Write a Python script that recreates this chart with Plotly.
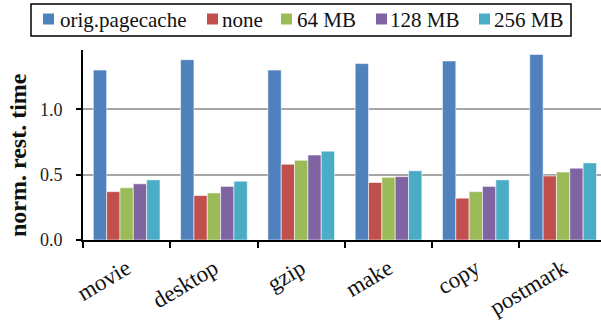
import plotly.graph_objects as go

# Workloads and normalized restore times per cache configuration
workloads = ["movie", "desktop", "gzip", "make", "copy", "postmark"]
series_names = ["orig.pagecache", "none", "64 MB", "128 MB", "256 MB"]
orig_pagecache = [1.30, 1.38, 1.30, 1.35, 1.37, 1.42]
none = [0.37, 0.34, 0.58, 0.44, 0.32, 0.49]
mb64 = [0.40, 0.36, 0.61, 0.48, 0.37, 0.52]
mb128 = [0.43, 0.41, 0.65, 0.485, 0.41, 0.55]
mb256 = [0.46, 0.45, 0.68, 0.53, 0.46, 0.59]
y_ticks = [0.0, 0.5, 1.0]
y_tick_labels = ["0.0", "0.5", "1.0"]
y_title = "norm. rest. time"

colors = ["#4F81BD", "#C0504D", "#9BBB59", "#8064A2", "#4BACC6"]
series_values = [orig_pagecache, none, mb64, mb128, mb256]

FONT = "Liberation Serif, Times New Roman, DejaVu Serif, serif"
W, H = 601, 320
L, R, T, B = 83, 0, 50, 80

fig = go.Figure()
for name, vals, col in zip(series_names, series_values, colors):
    fig.add_trace(go.Bar(
        x=workloads, y=vals, name=name,
        marker=dict(color=col, line=dict(color="rgba(255,255,255,0.55)", width=1)),
        showlegend=False,
    ))

fig.update_layout(
    width=W, height=H,
    margin=dict(l=L, r=R, t=T, b=B),
    barmode="group", bargap=0.236, bargroupgap=0,
    plot_bgcolor="white", paper_bgcolor="white",
    font=dict(family=FONT, color="#111"),
)

fig.update_xaxes(
    range=[-0.5, 5.434],
    showline=True, linecolor="black", linewidth=2,
    ticks="outside", ticklen=6, tickwidth=2, tickcolor="black",
    tickson="boundaries",
    tickangle=-31,
    ticklabelstandoff=4,
    tickfont=dict(family=FONT, size=23, color="#111"),
    showgrid=False,
)

fig.update_yaxes(
    range=[0, 1.454],
    tickvals=y_ticks, ticktext=y_tick_labels,
    showline=True, linecolor="black", linewidth=2,
    ticks="outside", ticklen=5, tickwidth=2, tickcolor="black",
    ticklabelstandoff=10,
    tickfont=dict(family=FONT, size=18, color="#222"),
    showgrid=True, gridcolor="#A6A6A6", gridwidth=2,
    zeroline=False,
)

# Helpers converting pixel positions in the page to paper coordinates
pw, ph = W - L - R, H - T - B


def px_x(p):
    return (p - L) / pw


def px_y(p):
    return (H - B - p) / ph


# Rotated y-axis title
fig.add_annotation(xref="paper", yref="paper", x=px_x(18), y=px_y(155),
                   xanchor="center", yanchor="middle", showarrow=False, textangle=-90,
                   text="<b>" + y_title + "</b>",
                   font=dict(family=FONT, size=24, color="#111"))

# Legend row drawn across the top, outside the plotting area
fig.add_shape(type="rect", xref="paper", yref="paper",
              x0=px_x(31), x1=px_x(571), y0=px_y(36), y1=px_y(4),
              line=dict(color="black", width=1.5), fillcolor="white", layer="above")

marker_left = [43, 207, 281, 376, 479]
text_left = [58, 220, 295, 388, 492]
for name, col, mx, tx in zip(series_names, colors, marker_left, text_left):
    fig.add_shape(type="rect", xref="paper", yref="paper",
                  x0=px_x(mx), x1=px_x(mx + 11), y0=px_y(24.5), y1=px_y(13.5),
                  line=dict(width=0), fillcolor=col, layer="above")
    fig.add_annotation(xref="paper", yref="paper", x=px_x(tx), y=px_y(20),
                       xanchor="left", yanchor="middle", showarrow=False,
                       text=name, font=dict(family=FONT, size=21, color="#111"))

fig.write_html("out.html")
